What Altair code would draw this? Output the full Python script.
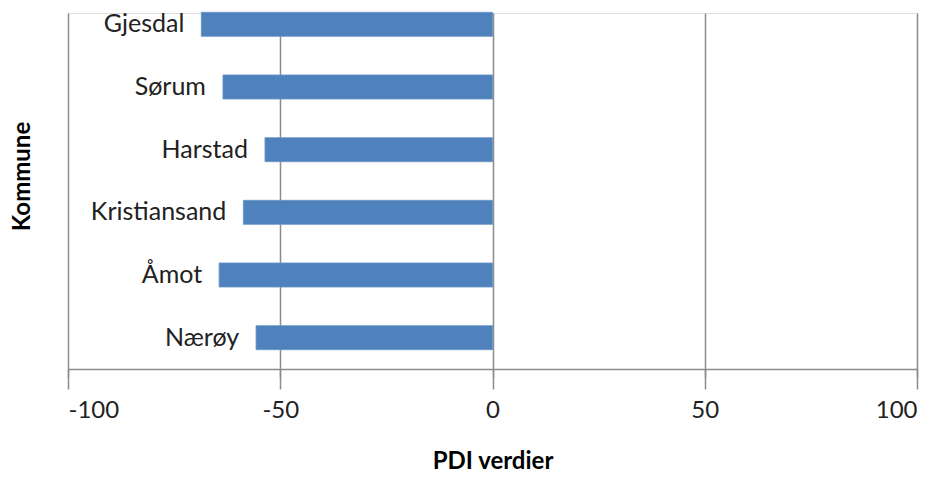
import altair as alt
import pandas as pd

kommuner = ["Gjesdal", "Sørum", "Harstad", "Kristiansand", "Åmot", "Nærøy"]
pdi = [-68.6, -63.5, -53.6, -58.7, -64.4, -55.7]
x_ticks = [-100, -50, 0, 50, 100]

df = pd.DataFrame({"Kommune": kommuner, "PDI": pdi})

FONT = "Lato"
FS = 25

y_enc = alt.Y(
    "Kommune:N",
    sort=kommuner,
    scale=alt.Scale(range=[-20, 356], paddingInner=0.616, paddingOuter=0.308),
    axis=alt.Axis(
        labels=False, ticks=False, domain=False, grid=False,
        title="Kommune", titleFont=FONT, titleFontSize=24, titleFontWeight="bold",
        titleColor="#000000", titleAngle=270, titleX=-46, titleY=163,
        titleAlign="center", titleBaseline="middle",
    ),
)

x_enc = alt.X(
    "PDI:Q",
    scale=alt.Scale(domain=[-100, 100], nice=False, zero=False),
    axis=alt.Axis(
        values=x_ticks, grid=True, gridColor="#8c8c8c", gridWidth=1.5,
        domainColor="#8c8c8c", domainWidth=1.5, tickColor="#8c8c8c", tickWidth=1.5,
        tickSize=8, labelFont=FONT, labelFontSize=24, labelColor="#222222",
        labelExpr="'' + datum.value",
        labelPadding=21, title="PDI verdier", titleFont=FONT, titleFontSize=24,
        titleFontWeight="bold", titleColor="#000000", titlePadding=27,
    ),
)

bars = alt.Chart(df).mark_bar(color="#4F81BD", stroke="#6a95c8", strokeWidth=0.8).encode(
    x=x_enc, x2=alt.datum(0), y=y_enc
)

labels = alt.Chart(df).mark_text(
    align="right", baseline="middle", dx=-17, font=FONT, fontSize=FS, color="#222222"
).encode(x="PDI:Q", y=alt.Y("Kommune:N", sort=kommuner), text="Kommune:N")

chart = alt.layer(bars, labels).properties(
    width=849, height=356,
    autosize=alt.AutoSizeParams(type="none"),
    padding={"left": 60, "top": 5, "right": 16, "bottom": 101},
).configure_view(stroke=None).configure(background="white")

chart.save("out.html", embed_options={"renderer": "svg", "actions": False})
